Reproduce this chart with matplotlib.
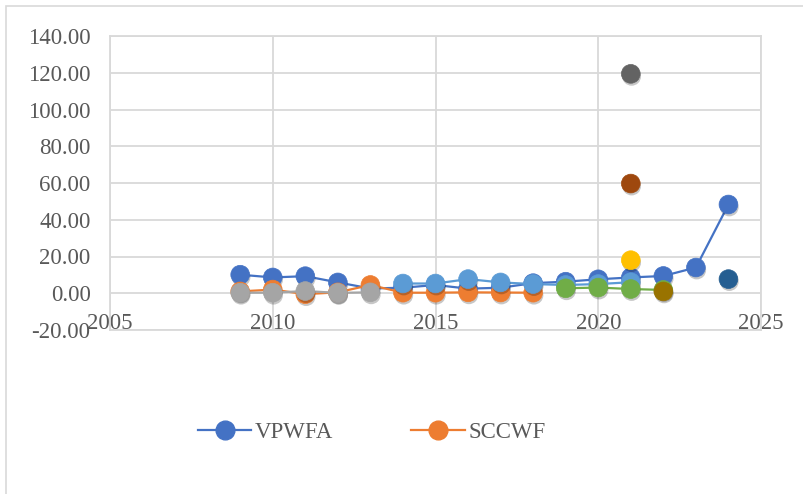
import matplotlib
matplotlib.use("Agg")
import matplotlib.pyplot as plt
import matplotlib.patheffects as pe
from matplotlib.patches import Rectangle
from matplotlib.lines import Line2D

# ---- data ----
vpwfa_years = [2009, 2010, 2011, 2012, 2013, 2014, 2015, 2016, 2017, 2018,
               2019, 2020, 2021, 2022, 2023, 2024]
vpwfa_vals = [10.1, 8.6, 9.3, 5.9, 2.6, 3.0, 4.5, 2.5, 3.0, 5.5,
              6.3, 7.6, 8.6, 9.4, 14.0, 48.3]

sccwf_years = [2009, 2010, 2011, 2012, 2013, 2014, 2015, 2016, 2017, 2018]
sccwf_vals = [1.0, 2.0, -0.5, 0.5, 4.5, 0.3, 0.3, 0.5, 0.4, 0.3]

s3_years = [2009, 2010, 2011, 2012, 2013]
s3_vals = [0.3, 0.3, 1.2, 0.2, 0.5]

s4_years = [2021]
s4_vals = [18.0]

s5_years = [2014, 2015, 2016, 2017, 2018, 2019, 2020, 2021]
s5_vals = [5.3, 5.3, 7.7, 5.9, 5.0, 4.5, 5.0, 6.0]

s6_years = [2019, 2020, 2021, 2022]
s6_vals = [2.7, 3.1, 2.3, 1.8]

s8_years = [2021]
s8_vals = [59.7]

s9_years = [2021]
s9_vals = [119.4]

s10_years = [2022]
s10_vals = [1.0]

s11_years = [2024]
s11_vals = [7.7]

series = [
    ("VPWFA", vpwfa_years, vpwfa_vals, "#4472C4"),
    ("SCCWF", sccwf_years, sccwf_vals, "#ED7D31"),
    ("", s3_years, s3_vals, "#A5A5A5"),
    ("", s4_years, s4_vals, "#FFC000"),
    ("", s5_years, s5_vals, "#5B9BD5"),
    ("", s6_years, s6_vals, "#70AD47"),
    ("", s8_years, s8_vals, "#9E480E"),
    ("", s9_years, s9_vals, "#636363"),
    ("", s10_years, s10_vals, "#997300"),
    ("", s11_years, s11_vals, "#255E91"),
]

x_ticks = [2005, 2010, 2015, 2020, 2025]
y_ticks = [-20, 0, 20, 40, 60, 80, 100, 120, 140]

W, H = 804, 494
fig = plt.figure(figsize=(W / 100, H / 100), dpi=100)
fig.patch.set_facecolor("white")

# outer chart border
fig.patches.append(Rectangle((6 / W, -0.05), 1.2, 1 - 6 / H + 0.05,
                             transform=fig.transFigure, fill=False,
                             edgecolor="#D9D9D9", linewidth=1.2, zorder=0))

left, right, top, bottom = 110, 761, 36, 330
ax = fig.add_axes([left / W, 1 - bottom / H, (right - left) / W, (bottom - top) / H])

font = "Liberation Serif"
fs = 16.5
tc = "#595959"

ax.set_xlim(2005, 2025)
ax.set_ylim(-20, 140)
ax.set_xticks(x_ticks)
ax.set_yticks(y_ticks)
ax.set_yticklabels([f"{v:.2f}" for v in y_ticks], fontfamily=font, fontsize=fs, color=tc)
ax.set_xticklabels([str(v) for v in x_ticks], fontfamily=font, fontsize=fs, color=tc)
ax.tick_params(axis="both", length=0)
ax.tick_params(axis="y", pad=14.0)
ax.tick_params(axis="x", pad=-12.5)
ax.grid(True, color="#D9D9D9", linewidth=1.3)
ax.set_axisbelow(True)
for sp in ax.spines.values():
    sp.set_color("#D9D9D9")
    sp.set_linewidth(1.3)

ms = 13.5
shadow = [pe.SimplePatchShadow(offset=(0.6, -1.8), shadow_rgbFace="#000000", alpha=0.22), pe.Normal()]

for i, (name, xs, ys, c) in enumerate(series):
    z = 3 + i * 2
    if len(xs) > 1:
        ax.plot(xs, ys, color=c, linewidth=1.6, zorder=z, solid_joinstyle="round")
    ax.plot(xs, ys, linestyle="none", marker="o", markersize=ms,
            markerfacecolor=c, markeredgecolor=c, markeredgewidth=0.5,
            zorder=z + 1, path_effects=shadow)

handles = [Line2D([], [], color=series[0][3], linewidth=1.6, marker="o", markersize=ms),
           Line2D([], [], color=series[1][3], linewidth=1.6, marker="o", markersize=ms)]
leg = fig.legend(handles, ["VPWFA", "SCCWF"], loc="center left",
                 bbox_to_anchor=(177 / W, 1 - 432 / H), ncol=2, frameon=False,
                 handlelength=2.35, handletextpad=0.15, columnspacing=3.4,
                 prop={"family": font, "size": fs})
for t in leg.get_texts():
    t.set_color(tc)

fig.savefig("out.png", dpi=100, facecolor="white")
